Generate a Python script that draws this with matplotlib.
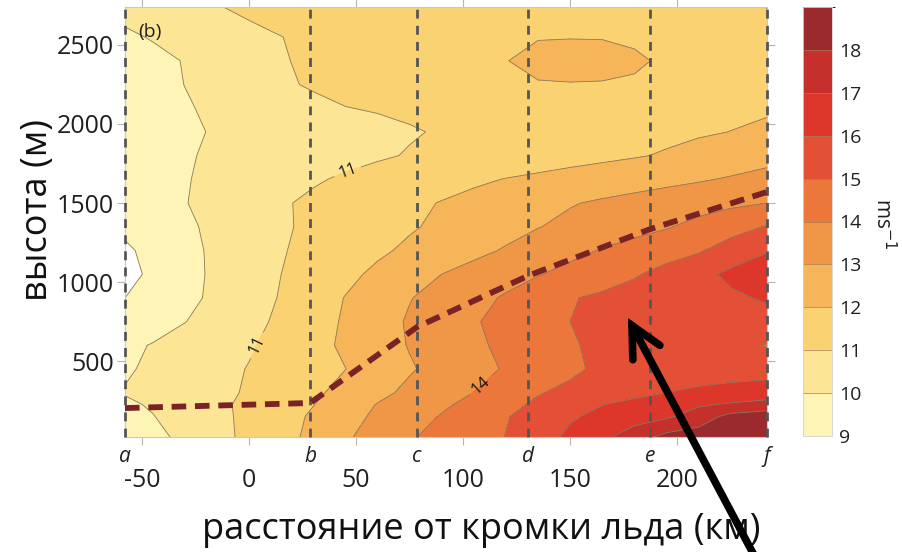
import numpy as np
import matplotlib
matplotlib.use('Agg')
import matplotlib.pyplot as plt
from matplotlib.colors import ListedColormap, BoundaryNorm
from matplotlib.patches import FancyArrowPatch
from matplotlib.transforms import blended_transform_factory

plt.rcParams['font.family'] = ['Open Sans', 'DejaVu Sans']
plt.rcParams['axes.unicode_minus'] = False

# ---- data ----
dist_km = [-58, -45, -30, -15, 0, 15, 30, 45, 60, 75, 90, 105, 120, 135, 150, 165, 180, 195, 210, 225, 242]
height_m = [20, 150, 225, 300, 450, 600, 750, 900, 1050, 1200, 1350, 1500, 1650, 1800, 1950, 2100, 2250, 2400, 2550, 2740]

speed_h20 = [9.40, 9.70, 10.26, 10.73, 11.21, 11.69, 12.22, 12.87, 13.40, 13.91, 14.30, 14.65, 15.02, 15.60, 16.18, 16.77, 17.55, 18.30, 18.50, 18.70, 18.80]
speed_h150 = [9.62, 9.97, 10.38, 10.78, 11.21, 11.65, 12.12, 12.66, 13.17, 13.61, 14.06, 14.50, 14.94, 15.41, 15.89, 16.24, 16.54, 16.85, 17.46, 18.30, 18.60]
speed_h225 = [9.85, 10.09, 10.45, 10.82, 11.20, 11.59, 11.98, 12.51, 13.04, 13.44, 13.84, 14.28, 14.73, 15.16, 15.57, 15.98, 16.28, 16.58, 16.88, 17.12, 17.35]
speed_h300 = [10.05, 10.28, 10.54, 10.80, 11.09, 11.47, 11.84, 12.28, 12.76, 13.21, 13.61, 14.01, 14.47, 14.94, 15.22, 15.48, 15.74, 16.00, 16.15, 16.30, 16.48]
speed_h450 = [9.90, 10.15, 10.45, 10.74, 11.04, 11.36, 11.68, 11.99, 12.45, 12.91, 13.31, 13.70, 14.08, 14.44, 14.81, 15.20, 15.40, 15.55, 15.60, 15.60, 15.60]
speed_h600 = [9.80, 10.05, 10.34, 10.62, 10.91, 11.29, 11.71, 12.15, 12.60, 13.05, 13.44, 13.83, 14.20, 14.55, 14.91, 15.20, 15.35, 15.40, 15.40, 15.25, 14.95]
speed_h750 = [9.27, 9.60, 9.98, 10.37, 10.75, 11.16, 11.63, 12.10, 12.61, 13.10, 13.51, 13.92, 14.29, 14.64, 15.00, 15.20, 15.35, 15.45, 15.50, 15.60, 15.70]
speed_h900 = [9.00, 9.36, 9.77, 10.19, 10.62, 11.06, 11.55, 12.03, 12.50, 12.96, 13.34, 13.71, 14.10, 14.52, 14.94, 15.15, 15.35, 15.50, 15.65, 15.85, 16.10]
speed_h1050 = [8.70, 9.18, 9.70, 10.18, 10.59, 11.00, 11.39, 11.78, 12.18, 12.59, 13.00, 13.32, 13.64, 13.95, 14.27, 14.59, 14.91, 15.30, 15.70, 16.20, 16.45]
speed_h1200 = [8.85, 9.26, 9.74, 10.18, 10.56, 10.94, 11.25, 11.55, 11.85, 12.16, 12.46, 12.77, 13.08, 13.41, 13.74, 14.06, 14.34, 14.62, 14.90, 15.40, 15.95]
speed_h1350 = [9.20, 9.50, 9.85, 10.20, 10.55, 10.89, 11.17, 11.42, 11.66, 11.91, 12.17, 12.43, 12.70, 12.97, 13.21, 13.45, 13.69, 13.93, 14.27, 14.65, 15.05]
speed_h1500 = [9.35, 9.64, 9.97, 10.28, 10.60, 10.91, 11.16, 11.38, 11.60, 11.82, 12.04, 12.26, 12.49, 12.71, 12.94, 13.12, 13.29, 13.46, 13.64, 13.81, 14.00]
speed_h1650 = [9.30, 9.60, 9.95, 10.20, 10.44, 10.67, 10.91, 11.11, 11.30, 11.48, 11.66, 11.85, 12.03, 12.17, 12.32, 12.47, 12.61, 12.76, 12.91, 13.08, 13.27]
speed_h1800 = [9.30, 9.60, 9.93, 10.12, 10.28, 10.44, 10.59, 10.75, 10.90, 11.05, 11.17, 11.30, 11.42, 11.55, 11.68, 11.80, 11.93, 12.08, 12.29, 12.49, 12.72]
speed_h1950 = [9.40, 9.62, 9.87, 10.07, 10.22, 10.36, 10.50, 10.65, 10.79, 10.94, 11.06, 11.17, 11.27, 11.38, 11.48, 11.59, 11.69, 11.80, 11.90, 12.01, 12.24]
speed_h2100 = [9.45, 9.67, 9.93, 10.15, 10.36, 10.57, 10.77, 10.98, 11.06, 11.13, 11.20, 11.27, 11.34, 11.41, 11.48, 11.55, 11.62, 11.70, 11.76, 11.81, 11.85]
speed_h2250 = [9.50, 9.74, 10.01, 10.29, 10.58, 10.87, 11.10, 11.25, 11.40, 11.55, 11.70, 11.80, 11.88, 11.93, 11.95, 11.93, 11.88, 11.80, 11.70, 11.60, 11.50]
speed_h2400 = [9.55, 9.77, 10.04, 10.34, 10.64, 10.94, 11.15, 11.35, 11.50, 11.62, 11.75, 11.85, 11.97, 12.30, 12.45, 12.40, 12.15, 11.85, 11.70, 11.60, 11.50]
speed_h2550 = [9.85, 10.06, 10.29, 10.52, 10.75, 10.99, 11.15, 11.30, 11.45, 11.60, 11.70, 11.80, 11.88, 11.95, 11.96, 11.95, 11.85, 11.70, 11.60, 11.50, 11.40]
speed_h2740 = [10.30, 10.43, 10.63, 10.95, 11.20, 11.30, 11.35, 11.40, 11.45, 11.50, 11.55, 11.60, 11.62, 11.65, 11.65, 11.60, 11.50, 11.40, 11.30, 11.20, 10.98]

levels = [9, 10, 11, 12, 13, 14, 15, 16, 17, 18, 19]
labelled_levels = [11, 14]
other_levels = [9, 10, 12, 13, 15, 16, 17, 18]
cbar_ticks = [9, 10, 11, 12, 13, 14, 15, 16, 17, 18]
band_colors = ['#fef4b6', '#fce594', '#fad272', '#f6b558', '#f09647',
               '#eb773b', '#e45036', '#dd372c', '#c52f2c', '#9b2a2c']

stations = ['a', 'b', 'c', 'd', 'e', 'f']
station_km = [-58, 28.5, 78.5, 130.4, 187.4, 242]
bl_height_m = [203, 235, 716, 1040, 1335, 1570]

xticks = [-50, 0, 50, 100, 150, 200]
yticks = [500, 1000, 1500, 2000, 2500]

# ---- figure ----
W, H = 902, 552
fig = plt.figure(figsize=(W / 100, H / 100), dpi=100)
ax = fig.add_axes([125 / W, 1 - 437 / H, 642 / W, 430 / H])

speed = np.array([speed_h20, speed_h150, speed_h225, speed_h300, speed_h450, speed_h600,
                  speed_h750, speed_h900, speed_h1050, speed_h1200, speed_h1350, speed_h1500,
                  speed_h1650, speed_h1800, speed_h1950, speed_h2100, speed_h2250, speed_h2400,
                  speed_h2550, speed_h2740])
X, Y = np.meshgrid(dist_km, height_m)
cmap = ListedColormap(band_colors)
norm = BoundaryNorm(levels, cmap.N)
cf = ax.contourf(X, Y, speed, levels=levels, cmap=cmap, norm=norm)
ax.contour(X, Y, speed, levels=other_levels, colors='#8d7b5f', linewidths=0.6)
cs_lab = ax.contour(X, Y, speed, levels=labelled_levels, colors='#8d7b5f', linewidths=0.6)
ax.clabel(cs_lab, manual=[(45.8, 1710), (3.3, 602), (109.3, 330)],
          inline=True, fontsize=12, colors='#111111', fmt='%d')

ax.set_xlim(-58, 242)
ax.set_ylim(20, 2740)
ax.set_xticks(xticks)
ax.set_yticks(yticks)
ax.tick_params(direction='out', length=6, width=0.8, color='#b5b5b5',
               top=True, right=True, labelsize=18, labelcolor='#231f20', pad=2)
ax.tick_params(axis='x', pad=16)
for sp in ax.spines.values():
    sp.set_color('#c8c8c8')
    sp.set_linewidth(0.8)

for xs in station_km:
    ax.axvline(xs, color='#555555', lw=2.0, ls=(0, (3.2, 2.6)), clip_on=False, zorder=3)

trans = blended_transform_factory(ax.transData, ax.transAxes)
for s, xs in zip(stations, station_km):
    ax.text(xs, -0.046, s, transform=trans, ha='center', va='center',
            style='italic', fontsize=15, color='#231f20')

ax.plot(station_km, bl_height_m, color='#7a2326', lw=4.2, ls=(0, (2.5, 1.5)),
        dash_capstyle='butt', clip_on=False, zorder=4)

fig.text(138 / W, 1 - 32 / H, '(b)', ha='left', va='center', fontsize=14, color='#231f20')

# colorbar
cax = fig.add_axes([803 / W, 1 - 436 / H, 29 / W, 429 / H])
cb = fig.colorbar(cf, cax=cax, ticks=cbar_ticks, drawedges=True)
cb.ax.tick_params(length=0, labelsize=14, pad=5, labelcolor='#231f20')
cb.outline.set_edgecolor('#d0d0d0')
cb.outline.set_linewidth(0.6)
cb.dividers.set_color('#a87a55')
cb.dividers.set_linewidth(0.5)
fig.text(883 / W, 1 - 224 / H, 'ms$^{-1}$', rotation=270, ha='center', va='center',
         fontsize=15, color='#231f20')

# axis labels
fig.text(38 / W, 1 - 210 / H, 'высота (м)', rotation=90, ha='center', va='center',
         fontsize=26, color='#111111')
fig.text(481 / W, 1 - 530 / H, 'расстояние от кромки льда (км)', ha='center', va='center',
         fontsize=26, color='#111111')

arrow = FancyArrowPatch(posA=(755 / W, -5 / H), posB=(628 / W, 1 - 318 / H),
                        transform=fig.transFigure,
                        arrowstyle='->,head_length=1.1,head_width=0.55',
                        mutation_scale=20, lw=5.5, color='black',
                        shrinkA=0, shrinkB=0, zorder=10, joinstyle='miter')
fig.add_artist(arrow)

fig.savefig('out.png', dpi=100)
